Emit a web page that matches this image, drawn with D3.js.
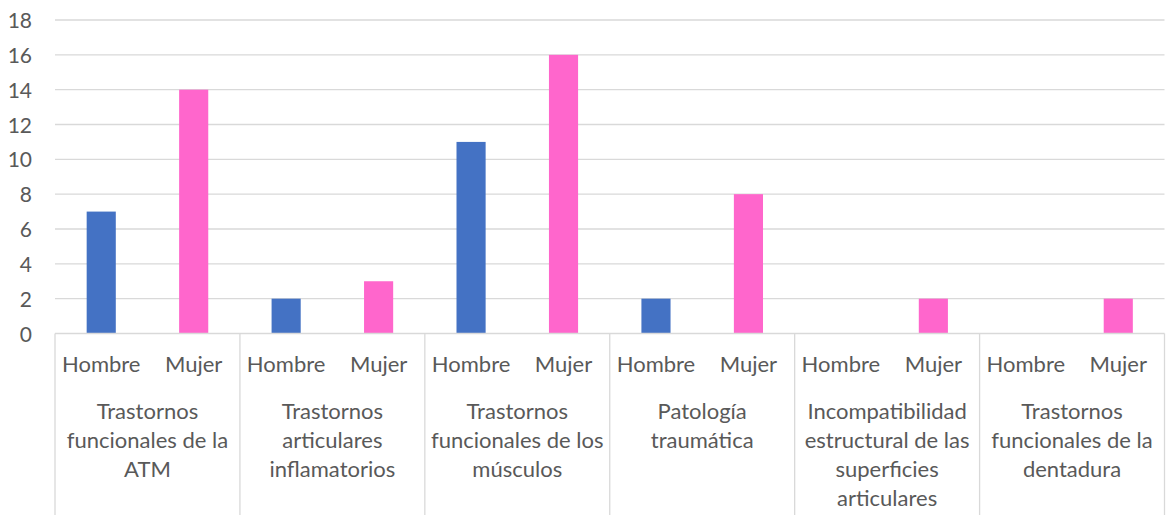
<!DOCTYPE html>
<html>
<head>
<meta charset="utf-8">
<script src="https://cdn.jsdelivr.net/npm/d3@7"></script>
<style>
  html, body { margin: 0; padding: 0; background: #fff; }
  svg { display: block; }
  text { font-family: Lato, "Noto Sans", sans-serif; fill: #595959; }
</style>
</head>
<body>
<svg id="chart" width="1166" height="522"></svg>
<script>
// Diagnoses (multi-line labels) and counts by sex
const categories = [
  ["Trastornos", "funcionales de la", "ATM"],
  ["Trastornos", "articulares", "inflamatorios"],
  ["Trastornos", "funcionales de los", "músculos"],
  ["Patología", "traumática"],
  ["Incompatibilidad", "estructural de las", "superficies", "articulares"],
  ["Trastornos", "funcionales de la", "dentadura"]
];
const sexes = ["Hombre", "Mujer"];
const hombre = [7, 2, 11, 2, 0, 0];
const mujer = [14, 3, 16, 8, 2, 2];
const yTicks = [0, 2, 4, 6, 8, 10, 12, 14, 16, 18];

const colors = { Hombre: "#4472C4", Mujer: "#FF66CC" };
const values = { Hombre: hombre, Mujer: mujer };

const svg = d3.select("#chart");
const plotLeft = 55, plotRight = 1164.5, plotTop = 20, plotBottom = 333.5;

const x0 = d3.scaleBand()
  .domain(d3.range(categories.length))
  .range([plotLeft, plotRight])
  .padding(0);
const x1 = d3.scaleBand()
  .domain(sexes)
  .range([0, x0.bandwidth()])
  .padding(0);
const y = d3.scaleLinear().domain([0, 18]).range([plotBottom, plotTop]);
const barW = x1.bandwidth() * 0.315;

// Horizontal gridlines
svg.append("g")
  .selectAll("line")
  .data(yTicks.filter(d => d > 0))
  .join("line")
  .attr("x1", plotLeft).attr("x2", plotRight)
  .attr("y1", d => y(d)).attr("y2", d => y(d))
  .attr("stroke", "#d9d9d9").attr("stroke-width", 1.3);

// Y axis labels
const yAxis = d3.axisLeft(y).tickValues(yTicks).tickSize(0).tickPadding(23);
const gy = svg.append("g").attr("transform", `translate(${plotLeft},0)`).call(yAxis);
gy.select(".domain").remove();
gy.selectAll("text")
  .style("font-family", "Lato, 'Noto Sans', sans-serif")
  .style("font-size", "21px")
  .attr("fill", "#595959")
  .attr("dy", "0.36em");

// Bars
const groups = svg.append("g")
  .selectAll("g")
  .data(categories.map((c, i) => i))
  .join("g")
  .attr("transform", i => `translate(${x0(i)},0)`);

groups.selectAll("rect")
  .data(i => sexes.map(s => ({ s, v: values[s][i] })))
  .join("rect")
  .attr("x", d => x1(d.s) + x1.bandwidth() / 2 - barW / 2)
  .attr("width", barW)
  .attr("y", d => y(d.v))
  .attr("height", d => y(0) - y(d.v))
  .attr("fill", d => colors[d.s]);

// Category axis: baseline, group separators
const axisG = svg.append("g");
axisG.append("line")
  .attr("x1", plotLeft).attr("x2", plotRight)
  .attr("y1", plotBottom).attr("y2", plotBottom)
  .attr("stroke", "#d9d9d9").attr("stroke-width", 1.3);
axisG.selectAll("line.sep")
  .data(d3.range(categories.length + 1))
  .join("line")
  .attr("class", "sep")
  .attr("x1", i => i < categories.length ? x0(i) : plotRight)
  .attr("x2", i => i < categories.length ? x0(i) : plotRight)
  .attr("y1", plotBottom).attr("y2", 515)
  .attr("stroke", "#d9d9d9").attr("stroke-width", 1.3);

// Sex labels
groups.selectAll("text.sex")
  .data(sexes)
  .join("text")
  .attr("class", "sex")
  .attr("x", s => x1(s) + x1.bandwidth() / 2)
  .attr("y", 372)
  .attr("text-anchor", "middle")
  .style("font-size", "22px")
  .text(s => s);

// Diagnosis labels
groups.append("text")
  .attr("class", "cat")
  .attr("text-anchor", "middle")
  .style("font-size", "22px")
  .selectAll("tspan")
  .data(i => categories[i])
  .join("tspan")
  .attr("x", x0.bandwidth() / 2)
  .attr("y", (d, k) => 419 + k * 29)
  .text(d => d);
</script>
</body>
</html>
